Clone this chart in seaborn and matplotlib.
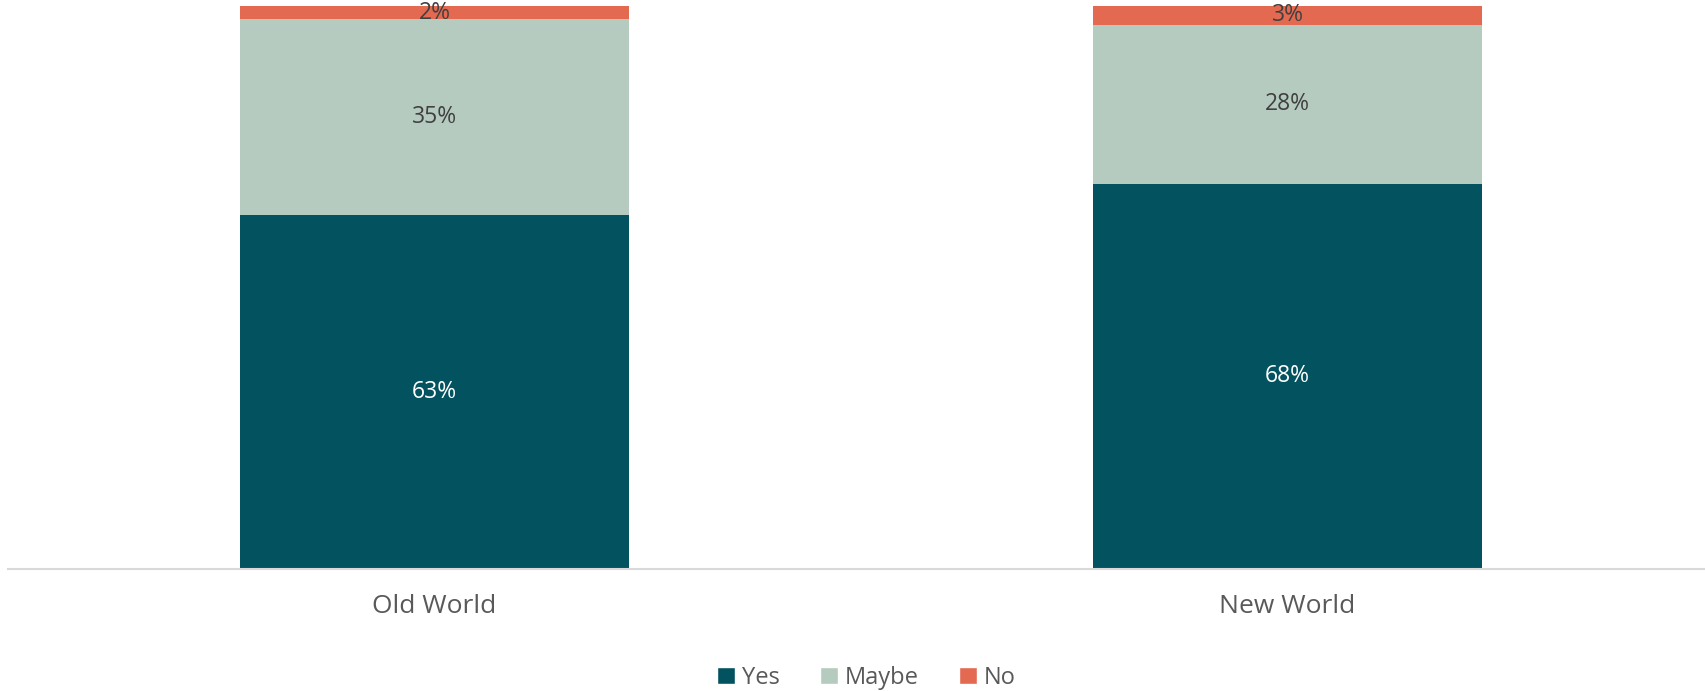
import matplotlib
matplotlib.use("Agg")
import matplotlib.pyplot as plt
import numpy as np
import pandas as pd
import seaborn as sns
from matplotlib.patches import Patch

# data (shares in %, labels show the rounded value)
regions = ["Old World", "New World"]
yes = [62.8, 68.4]
maybe = [34.8, 28.3]
no = [2.4, 3.3]

COLORS = {"Yes": "#02535F", "Maybe": "#B5CBBF", "No": "#E46951"}
TEXT_COLORS = {"Yes": "white", "Maybe": "#404040", "No": "#404040"}

sns.set_theme(style="white")
plt.rcParams["font.family"] = ["Open Sans", "DejaVu Sans"]

df = pd.DataFrame({"region": regions, "Yes": yes, "Maybe": maybe, "No": no})
df["c_yes"] = df["Yes"]
df["c_maybe"] = df["Yes"] + df["Maybe"]
df["c_no"] = df["Yes"] + df["Maybe"] + df["No"]

fig = plt.figure(figsize=(17.06, 6.91), dpi=100)
ax = fig.add_axes([0.0047, 0.1766, 1.0, 0.8148])

# stacked bars drawn as cumulative layers, back to front
for col, key in [("c_no", "No"), ("c_maybe", "Maybe"), ("c_yes", "Yes")]:
    sns.barplot(data=df, x="region", y=col, color=COLORS[key], width=0.455,
                saturation=1, ax=ax, linewidth=0)

# segment labels
for i, row in df.iterrows():
    bottom = 0
    for key in ["Yes", "Maybe", "No"]:
        v = row[key]
        ax.text(i, bottom + v / 2, f"{round(v)}%", ha="center", va="center",
                fontsize=16.5, color=TEXT_COLORS[key])
        bottom += v

ax.set_xlim(-0.5, 1.5)
ax.set_ylim(0, 100)
ax.set_xlabel("")
ax.set_ylabel("")
ax.set_yticks([])
ax.tick_params(axis="x", length=0, pad=18, labelsize=19, labelcolor="#595959")
for s in ["top", "right", "left"]:
    ax.spines[s].set_visible(False)
ax.spines["bottom"].set_color("#D9D9D9")
ax.spines["bottom"].set_linewidth(1.5)

handles = [Patch(facecolor=COLORS[k], label=k) for k in ["Yes", "Maybe", "No"]]
fig.legend(handles=handles, loc="center", bbox_to_anchor=(0.508, 0.019),
           ncol=3, frameon=False, fontsize=17, handlelength=0.75,
           handleheight=0.75, handletextpad=0.3, columnspacing=1.7,
           labelcolor="#595959")

fig.savefig("out.png", dpi=100)
